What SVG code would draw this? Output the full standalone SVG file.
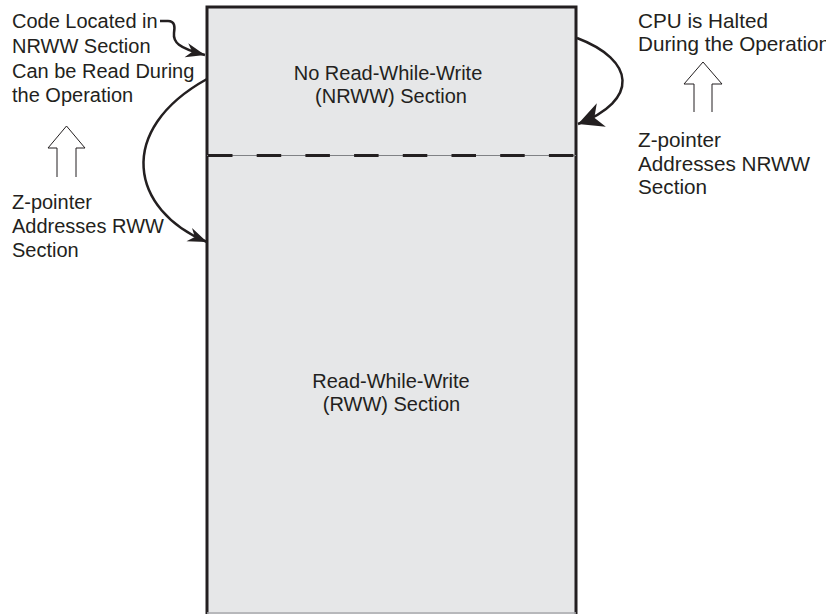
<svg xmlns="http://www.w3.org/2000/svg" width="826" height="614" viewBox="0 0 826 614">
<style>
text{font-family:"Liberation Sans",Arial,sans-serif;font-size:20px;fill:#231f20}
.c{text-anchor:middle}
.r{font-size:20.7px}
.conn{fill:none;stroke:#231f20;stroke-width:2.5}
.hollow{fill:none;stroke:#231f20;stroke-width:1}
</style>
<defs>
<marker id="ahL" markerUnits="userSpaceOnUse" markerWidth="30" markerHeight="30" viewBox="-22 -12 24 24" refX="0" refY="0" orient="auto">
<path d="M0,0 L-20,-10 L-14,0 L-20,10 Z" fill="#231f20"/>
</marker>
<marker id="ahS" markerUnits="userSpaceOnUse" markerWidth="24" markerHeight="24" viewBox="-18 -8 20 16" refX="0" refY="0" orient="auto">
<path d="M0,0 L-16,-6 L-11,0 L-16,6 Z" fill="#231f20"/>
</marker>
</defs>
<g id="memory">
<rect x="207" y="7" width="369" height="610" fill="#e6e7e8"/>
<path d="M207,614 V7 H576 V614" fill="none" stroke="#231f20" stroke-width="3"/>
<line x1="207" y1="613" x2="576" y2="613" stroke="#a7a9ac" stroke-width="1.5"/>
</g>
<g id="divider">
<line x1="207" y1="155.5" x2="576" y2="155.5" stroke="#808285" stroke-width="1.2"/>
<line x1="208" y1="155.5" x2="576" y2="155.5" stroke="#231f20" stroke-width="3.2" stroke-dasharray="24.5 24.2"/>
</g>
<g id="nrww">
<text class="c" x="388" y="80">No Read-While-Write</text>
<text class="c" x="391" y="103">(NRWW) Section</text>
</g>
<g id="rww">
<text class="c" x="391" y="388">Read-While-Write</text>
<text class="c" x="391.5" y="411">(RWW) Section</text>
</g>
<g id="left-note">
<text x="12" y="28">Code Located in</text>
<text x="12" y="53">NRWW Section</text>
<text x="12" y="78">Can be Read During</text>
<text x="12" y="102">the Operation</text>
</g>
<g id="left-zpointer">
<text x="12" y="209">Z-pointer</text>
<text x="12" y="233">Addresses RWW</text>
<text x="12" y="257">Section</text>
</g>
<g id="right-note">
<text class="r" x="638" y="28">CPU is Halted</text>
<text class="r" x="638" y="51">During the Operation</text>
</g>
<g id="right-zpointer">
<text class="r" x="638" y="147">Z-pointer</text>
<text class="r" x="638" y="170.5">Addresses NRWW</text>
<text class="r" x="638" y="194">Section</text>
</g>
<g id="hollow-arrows">
<polyline class="hollow" points="57,177 57,148 48,148 66.5,126 85,148 76,148 76,177"/>
<polyline class="hollow" points="694,112 694,84 684,84 703,62 722,84 712,84 712,112"/>
</g>
<g id="connectors">
<path class="conn" d="M160,21 H168 C175,21 175,27 174,33 C173,42 178,48 205,55" stroke-width="2" marker-end="url(#ahS)"/>
<path class="conn" d="M207,79 C115,130 130,210 207,242" marker-end="url(#ahS)"/>
<path class="conn" d="M577,38 C635,60 640,100 578,124" marker-end="url(#ahL)"/>
</g>
</svg>
